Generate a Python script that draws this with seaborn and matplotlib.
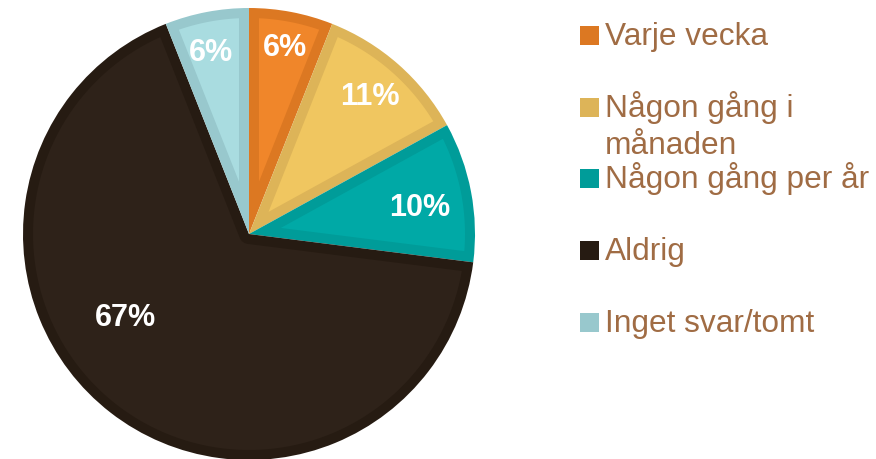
"""
Pie chart: how often respondents do something (Swedish survey).
"""

import numpy as np
import matplotlib.pyplot as plt
import seaborn as sns
from matplotlib.patches import Rectangle, Polygon


# --- Data ---
CATEGORIES = ["Varje vecka", "Någon gång i\nmånaden", "Någon gång per år", "Aldrig", "Inget svar/tomt"]
SHARES = [6, 11, 10, 67, 6]

# --- Style ---
FILL_COLORS = ["#F0862A", "#F0C660", "#00A9A6", "#2E2219", "#A9DCE0"]
EDGE_COLORS = ["#DC7822", "#DDB458", "#009C99", "#261B12", "#98C8CD"]
TEXT_COLOR = "#A06C44"
LABEL_DIST = [0.84, 0.81, 0.765, 0.66, 0.82]
LABEL_ANGLE_SHIFT = [0, 0, -2, -18, 1]
LEGEND_BASELINES = [45, 117, 188, 260, 332]  # pixels from top
LINE_STEP = 37
DPI = 100
W, H = 876, 459
BORDER = 10 / 226  # inner border width, in pie radii


def inset_wedge(theta1, theta2, R, d, n=120):
    """Polygon for a wedge shrunk inward by d on every side."""
    a1, a2 = np.deg2rad(theta1), np.deg2rad(theta2)
    span = a2 - a1
    t = np.sqrt((R - d) ** 2 - d ** 2)
    delta = np.arctan2(d, t)
    arc = np.linspace(a1 + delta, a2 - delta, n)
    pts = list(zip((R - d) * np.cos(arc), (R - d) * np.sin(arc)))
    if span < np.pi:
        mid = (a1 + a2) / 2
        s = d / np.sin(span / 2)
        pts.append((s * np.cos(mid), s * np.sin(mid)))
    else:
        small = np.linspace(a2 - np.pi / 2, a1 + np.pi / 2, n // 3)
        pts += list(zip(d * np.cos(small), d * np.sin(small)))
    return np.array(pts)


def main() -> None:
    sns.set_style("white")
    plt.rcParams["font.family"] = ["Liberation Sans", "DejaVu Sans"]

    fig = plt.figure(figsize=(W / DPI, H / DPI), dpi=DPI)
    cx, cy, r = 249, 234, 226
    ax = fig.add_axes([(cx - r) / W, (H - cy - r) / H, 2 * r / W, 2 * r / H])

    # outer pie in border colour, inner inset shapes in fill colour
    wedges, _ = ax.pie(SHARES, colors=sns.color_palette(EDGE_COLORS), startangle=90,
                       counterclock=False, radius=1, wedgeprops=dict(linewidth=0))
    for w, fc in zip(wedges, FILL_COLORS):
        poly = inset_wedge(w.theta1, w.theta2, w.r, BORDER)
        ax.add_patch(Polygon(poly, closed=True, facecolor=fc, edgecolor="none"))

    for w, val, d, shift in zip(wedges, SHARES, LABEL_DIST, LABEL_ANGLE_SHIFT):
        ang = np.deg2rad((w.theta1 + w.theta2) / 2 + shift)
        ax.text(d * np.cos(ang), d * np.sin(ang), f"{val}%", ha="center", va="center",
                color="white", fontsize=22, fontweight="bold")

    ax.set_xlim(-1, 1)
    ax.set_ylim(-1, 1)
    ax.set_aspect("equal")
    ax.axis("off")

    # manual legend
    for label, ec, base in zip(CATEGORIES, EDGE_COLORS, LEGEND_BASELINES):
        sq = Rectangle((580 / W, 1 - base / H), 19 / W, 19 / H, transform=fig.transFigure,
                       facecolor=ec, edgecolor="none")
        fig.patches.append(sq)
        for i, line in enumerate(label.split("\n")):
            fig.text(605 / W, 1 - (base + i * LINE_STEP) / H, line, color=TEXT_COLOR,
                     fontsize=22.8, va="baseline", ha="left")

    fig.savefig("out.png", dpi=DPI)
    plt.close(fig)


if __name__ == "__main__":
    main()
